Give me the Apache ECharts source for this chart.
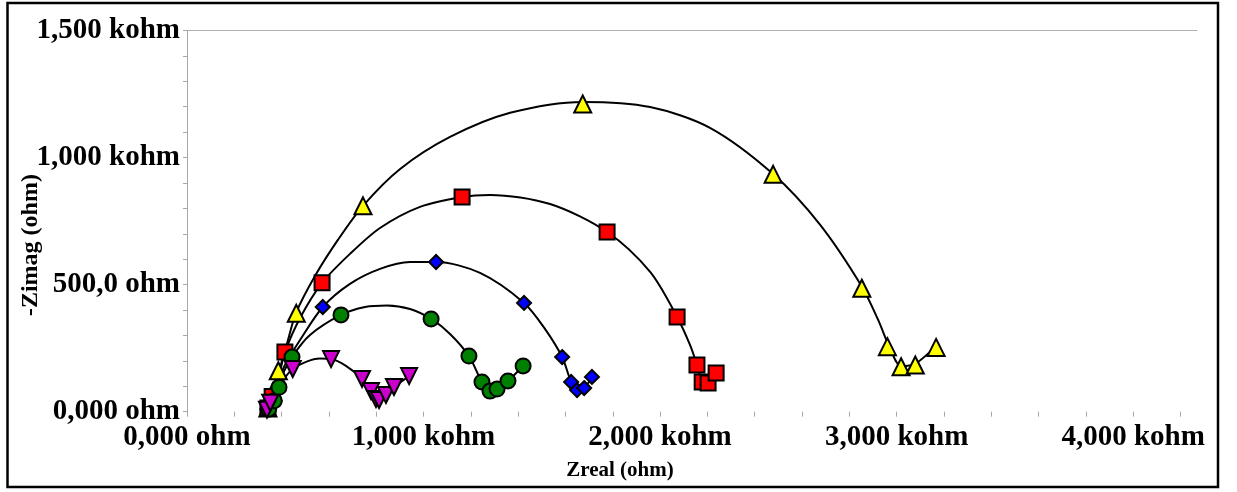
<!DOCTYPE html>
<html>
<head>
<meta charset="utf-8">
<script src="https://cdn.jsdelivr.net/npm/echarts@6/dist/echarts.min.js"></script>
<style>
  html, body { margin: 0; padding: 0; background: #fff; }
  #chart { width: 1237px; height: 492px; }
</style>
</head>
<body>
<div id="chart"></div>
<script>
const yellowPtsX = [342, 363, 386, 462, 744, 1673, 2478, 2853, 2961, 3019, 3079, 3167];
const yellowPtsY = [15, 78, 161, 387, 810, 1211, 934, 486, 256, 177, 184, 253];
const yellowFitX = [342, 368, 393, 427, 461, 541, 638, 744, 901, 1112, 1366, 1674, 1958, 2211, 2478, 2677, 2854, 2922, 2972, 3019, 3078, 3163];
const yellowFitY = [15, 85, 172, 282, 389, 534, 676, 810, 955, 1081, 1176, 1219, 1199, 1117, 935, 735, 491, 361, 250, 179, 188, 255];

const redPtsX = [342, 360, 414, 571, 1163, 1776, 2072, 2156, 2178, 2203, 2237];
const redPtsY = [15, 60, 235, 507, 845, 707, 373, 184, 117, 113, 152];
const redFitX = [342, 368, 393, 414, 478, 571, 689, 816, 985, 1163, 1281, 1535, 1776, 1958, 2072, 2127, 2156, 2178, 2203, 2237];
const redFitY = [15, 78, 156, 235, 369, 507, 621, 723, 806, 845, 853, 817, 707, 550, 373, 262, 184, 117, 113, 152];

const bluePtsX = [340, 355, 574, 1053, 1425, 1586, 1624, 1649, 1679, 1712];
const bluePtsY = [10, 40, 412, 589, 428, 215, 117, 85, 93, 137];
const blueFitX = [342, 372, 414, 478, 574, 689, 816, 943, 1053, 1239, 1425, 1514, 1586, 1624, 1649, 1679, 1712];
const blueFitY = [15, 85, 184, 282, 412, 503, 562, 589, 589, 546, 428, 325, 215, 117, 85, 93, 137];

const greenPtsX = [345, 369, 389, 444, 651, 1032, 1192, 1247, 1281, 1311, 1357, 1421];
const greenPtsY = [10, 43, 96, 215, 381, 365, 219, 117, 81, 89, 121, 180];
const greenFitX = [342, 364, 393, 444, 520, 651, 753, 846, 943, 1032, 1112, 1192, 1247, 1281, 1311, 1357, 1421];
const greenFitY = [15, 54, 125, 215, 302, 381, 412, 418, 404, 365, 306, 219, 117, 81, 89, 121, 180];

const magentaPtsX = [338, 352, 447, 609, 740, 778, 799, 812, 841, 875, 939];
const magentaPtsY = [8, 35, 168, 207, 129, 81, 50, 46, 66, 97, 140];
const magentaFitX = [342, 372, 414, 447, 503, 562, 609, 672, 740, 778, 799, 812, 841, 875, 939];
const magentaFitY = [15, 66, 133, 168, 196, 209, 207, 180, 129, 81, 50, 46, 66, 97, 140];

const xLabelValues = [0, 1000, 2000, 3000, 4000];
const xLabels = ['0,000 ohm', '1,000 kohm', '2,000 kohm', '3,000 kohm', '4,000 kohm'];
const yLabelValues = [0, 500, 1000, 1500];
const yLabels = ['0,000 ohm', '500,0 ohm', '1,000 kohm', '1,500 kohm'];
const xTickValues = [0, 200, 400, 600, 800, 1000, 1200, 1400, 1600, 1800, 2000, 2200, 2400, 2600, 2800, 3000, 3200, 3400, 3600, 3800, 4000, 4200];
const yTickValues = [0, 100, 200, 300, 400, 500, 600, 700, 800, 900, 1000, 1100, 1200, 1300, 1400, 1500];

const X_MAX = 4270;
const Y_MAX = 1500;

function pairs(xs, ys) { return xs.map((x, i) => [x, ys[i]]); }

const seriesDefs = [
  { name: 'S1', px: yellowPtsX, py: yellowPtsY, fx: yellowFitX, fy: yellowFitY, color: '#ffff00', symbol: 'triangle', size: 17, rotate: 0 },
  { name: 'S2', px: redPtsX, py: redPtsY, fx: redFitX, fy: redFitY, color: '#ff0000', symbol: 'rect', size: 15, rotate: 0 },
  { name: 'S3', px: bluePtsX, py: bluePtsY, fx: blueFitX, fy: blueFitY, color: '#0000ff', symbol: 'diamond', size: 14, rotate: 0 },
  { name: 'S4', px: greenPtsX, py: greenPtsY, fx: greenFitX, fy: greenFitY, color: '#008000', symbol: 'circle', size: 15, rotate: 0 },
  { name: 'S5', px: magentaPtsX, py: magentaPtsY, fx: magentaFitX, fy: magentaFitY, color: '#cc00cc', symbol: 'triangle', size: 16, rotate: 180 }
];

const font = "'Liberation Serif', 'Times New Roman', serif";
const chart = echarts.init(document.getElementById('chart'), null, { renderer: 'canvas' });

const fitSeries = seriesDefs.map(d => ({
  name: d.name + ' fit', type: 'line', data: pairs(d.fx, d.fy),
  smooth: 0.3, symbol: 'none', silent: true,
  lineStyle: { color: '#000', width: 2 }, z: 2
}));
const markerSeries = seriesDefs.map((d, i) => ({
  name: d.name, type: 'scatter', data: pairs(d.px, d.py),
  symbol: d.symbol, symbolSize: d.size, symbolRotate: d.rotate,
  itemStyle: { color: d.color, borderColor: '#000', borderWidth: 2, opacity: 1 },
  z: 3 + i
}));

chart.setOption({
  animation: false,
  backgroundColor: '#ffffff',
  grid: { left: 187, right: 40, top: 30.5, bottom: 80.3, containLabel: false, outerBoundsMode: 'none' },
  graphic: [{
    type: 'rect', silent: true, z: 100,
    shape: { x: 7.5, y: 3, width: 1210.5, height: 484 },
    style: { fill: 'none', stroke: '#000', lineWidth: 2.5 }
  }],
  xAxis: [{
    type: 'value', min: 0, max: X_MAX,
    name: 'Zreal (ohm)', nameLocation: 'middle', nameGap: 48, nameMoveOverlap: false,
    nameTextStyle: { fontFamily: font, fontWeight: 'bold', fontSize: 21, color: '#000', padding: [0, 144, 0, 0] },
    axisLine: { show: false },
    axisTick: { show: true, customValues: xTickValues, length: 5, inside: false, lineStyle: { color: '#a8a8a8', width: 1 } },
    axisLabel: {
      customValues: xLabelValues, margin: 11,
      fontFamily: font, fontWeight: 'bold', fontSize: 29, color: '#000',
      formatter: v => xLabels[xLabelValues.indexOf(v)]
    },
    splitLine: { show: false }
  }, {
    type: 'value', min: 0, max: X_MAX, position: 'top',
    axisLine: { show: true, lineStyle: { color: '#b0b0b0', width: 1 } },
    axisTick: { show: false }, axisLabel: { show: false }, splitLine: { show: false }
  }],
  yAxis: {
    type: 'value', min: 0, max: Y_MAX,
    name: '-Zimag (ohm)', nameLocation: 'middle', nameGap: 144, nameMoveOverlap: false,
    nameTextStyle: { fontFamily: font, fontWeight: 'bold', fontSize: 24, color: '#000', padding: [0, 48, 0, 0] },
    axisLine: { show: true, lineStyle: { color: '#a8a8a8', width: 1 } },
    axisTick: { show: true, customValues: yTickValues, length: 4, lineStyle: { color: '#a8a8a8', width: 1 } },
    axisLabel: {
      customValues: yLabelValues, margin: 7,
      fontFamily: font, fontWeight: 'bold', fontSize: 29, color: '#000',
      padding: [3, 0, 0, 0],
      formatter: v => yLabels[yLabelValues.indexOf(v)]
    },
    splitLine: { show: false }
  },
  series: fitSeries.concat(markerSeries)
});
</script>
</body>
</html>
